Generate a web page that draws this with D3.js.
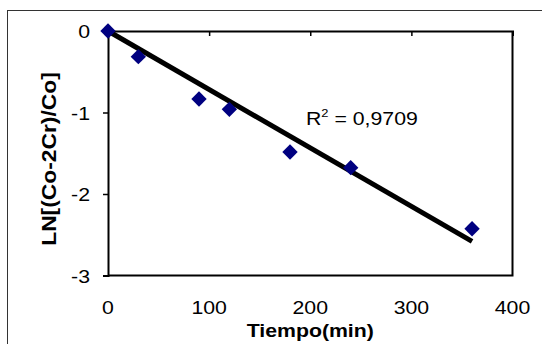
<!DOCTYPE html>
<html><head><meta charset="utf-8">
<script src="https://cdn.jsdelivr.net/npm/d3@7"></script>
<style>html,body{margin:0;padding:0;background:#fff;overflow:hidden}</style>
</head><body>
<script>
const tiempo = [0, 30, 90, 120, 180, 240, 360];
const lnValues = [0, -0.315, -0.834, -0.961, -1.485, -1.677, -2.426];
const xTicks = [0, 100, 200, 300, 400];
const yTicks = [0, -1, -2, -3];
const r2Label = "0,9709";
const xTitle = "Tiempo(min)";
const yTitle = "LN[(Co-2Cr)/Co]";

const W = 542, H = 344;
const svg = d3.select("body").append("svg").attr("width", W).attr("height", H);
const FONT = "Liberation Sans, Arial, sans-serif";
const SX = 1.12;

// outer chart frame
svg.append("rect").attr("x", 7.5).attr("y", 10.5).attr("width", 700).attr("height", 500)
  .attr("fill", "none").attr("stroke", "#333").attr("stroke-width", 1);

const L = 108, R = 512.5, T = 31, B = 275.5;
const x = d3.scaleLinear().domain([0, 400]).range([L, R]);
const y = d3.scaleLinear().domain([-3, 0]).range([B, T]);

// plot border (right + bottom)
svg.append("path").attr("d", `M${R},${T}V${B}H${L}`).attr("fill", "none")
  .attr("stroke", "#000").attr("stroke-width", 2);

// x axis at y=0 (top) with ticks pointing down
const xAxis = svg.append("g").attr("transform", `translate(0,${y(0)})`)
  .call(d3.axisBottom(x).tickValues(xTicks).tickSize(5).tickFormat(""));
xAxis.select(".domain").attr("stroke", "#000").attr("stroke-width", 2);
xAxis.selectAll(".tick line").attr("stroke", "#000").attr("stroke-width", 1.5);

// x tick labels at bottom
svg.append("g").selectAll("text").data(xTicks).join("text")
  .attr("transform", d => `translate(${x(d)},${313.5}) scale(${SX},1)`)
  .attr("text-anchor", "middle").attr("font-family", FONT).attr("font-size", 19)
  .attr("fill", "#000").text(d => d);

// y axis
const yAxis = svg.append("g").attr("transform", `translate(${L},0)`)
  .call(d3.axisLeft(y).tickValues(yTicks).tickSize(5).tickFormat(""));
yAxis.select(".domain").attr("stroke", "#000").attr("stroke-width", 2);
yAxis.selectAll(".tick line").attr("stroke", "#000").attr("stroke-width", 1.5);
svg.append("g").selectAll("text").data(yTicks).join("text")
  .attr("transform", d => `translate(${90},${y(d) + 7}) scale(${SX},1)`)
  .attr("text-anchor", "end").attr("font-family", FONT).attr("font-size", 19)
  .attr("fill", "#000").text(d => d === 0 ? "0" : "-" + Math.abs(d));

// axis titles
svg.append("text").attr("transform", `translate(${x(200)},337) scale(${SX},1)`)
  .attr("text-anchor", "middle").attr("font-family", FONT).attr("font-size", 19)
  .attr("font-weight", "bold").attr("fill", "#000").text(xTitle);
svg.append("text").attr("transform", `translate(56,${159}) rotate(-90) scale(1.17,1)`)
  .attr("text-anchor", "middle").attr("font-family", FONT).attr("font-size", 19.5)
  .attr("font-weight", "bold").attr("fill", "#000").text(yTitle);

// linear trendline through origin (least squares)
const sxy = d3.sum(tiempo, (t, i) => t * lnValues[i]);
const sxx = d3.sum(tiempo, t => t * t);
const slope = sxy / sxx;
const xr = d3.extent(tiempo);
svg.append("line")
  .attr("x1", x(xr[0])).attr("y1", y(slope * xr[0]))
  .attr("x2", x(xr[1])).attr("y2", y(slope * xr[1]))
  .attr("stroke", "#000").attr("stroke-width", 5);

// markers
const sym = d3.symbol().type(d3.symbolSquare).size(118);
svg.append("g").selectAll("path").data(tiempo).join("path")
  .attr("d", sym)
  .attr("transform", (d, i) => `translate(${x(d)},${y(lnValues[i])}) rotate(45)`)
  .attr("fill", "#000080");

// R² label
const rt = svg.append("text").attr("transform", `translate(306,125) scale(${SX},1)`)
  .attr("font-family", FONT).attr("font-size", 19).attr("fill", "#000");
rt.append("tspan").text("R");
rt.append("tspan").attr("font-size", 11.5).attr("dy", -8).text("2");
rt.append("tspan").attr("dy", 8).text(" = " + r2Label);
</script>
</body></html>
